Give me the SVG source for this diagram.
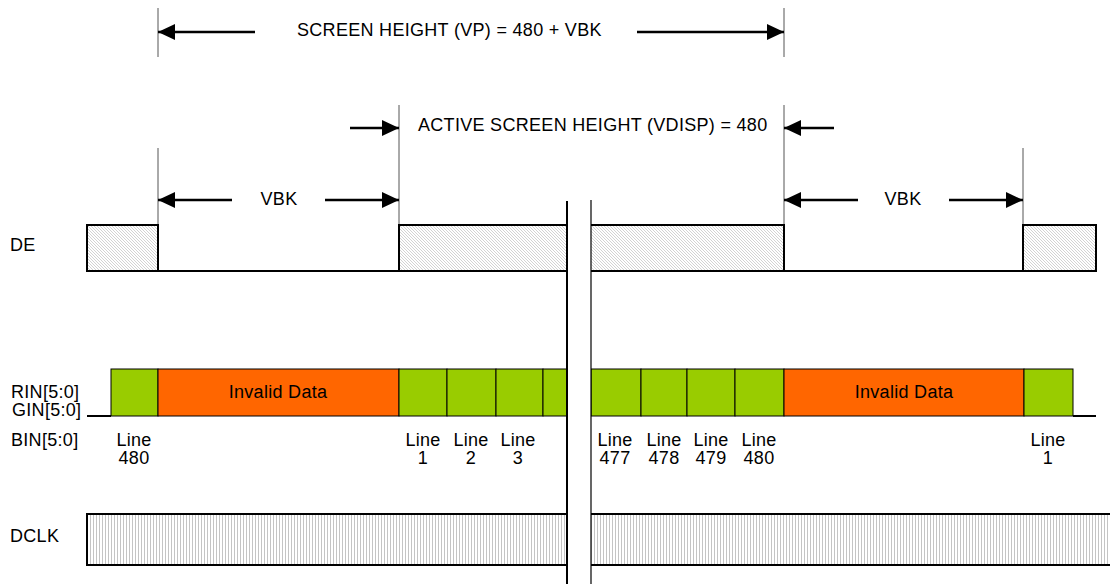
<svg xmlns="http://www.w3.org/2000/svg" width="1110" height="584" viewBox="0 0 1110 584">
<style>
text{font-family:"Liberation Sans",Arial,sans-serif;font-size:18px;letter-spacing:0.3px;fill:#000}
.mid{text-anchor:middle}
.ext{stroke:#555;stroke-width:1;fill:none}
.arr{stroke:#000;stroke-width:2.5;fill:none;marker-end:url(#ah)}
.sig{stroke:#000;stroke-width:2;fill:none}
.g{fill:#99cc00;stroke:#000;stroke-width:1}
.o{fill:#ff6600;stroke:#000;stroke-width:1}
</style>
<defs>
<pattern id="hatch" width="3" height="3" patternUnits="userSpaceOnUse"><rect width="3" height="3" fill="#fff"/><path d="M0,0 L3,3 M2,-1 L4,1 M-1,2 L1,4" stroke="#c8c8c8" stroke-width="0.8"/></pattern>
<pattern id="vl" width="3" height="10" patternUnits="userSpaceOnUse"><rect width="3" height="10" fill="#fff"/><rect width="1" height="10" fill="#c4c4c4"/></pattern>
<marker id="ah" viewBox="0 0 17 16" refX="17" refY="8" markerWidth="17" markerHeight="16" markerUnits="userSpaceOnUse" orient="auto"><path d="M0,0 L17,8 L0,16 z" fill="#000"/></marker>
</defs>
<rect width="1110" height="584" fill="#fff"/>

<g id="labels">
<text x="10" y="251">DE</text>
<text x="11" y="398">RIN[5:0]</text>
<text x="12" y="416">GIN[5:0]</text>
<text x="11" y="446">BIN[5:0]</text>
<text x="10" y="542">DCLK</text>
</g>

<g id="dimensions">
<path class="ext" d="M158,8V57 M784,8V57 M158,148V225 M399,105V225 M784,105V225 M1023,148V225"/>
<text x="297" y="36">SCREEN HEIGHT (VP) = 480 + VBK</text>
<text x="418" y="131">ACTIVE SCREEN HEIGHT (VDISP) = 480</text>
<text x="279" y="205" class="mid">VBK</text>
<text x="903" y="205" class="mid">VBK</text>
</g>

<g id="connectors">
<line class="arr" x1="255" y1="32" x2="158" y2="32"/>
<line class="arr" x1="637" y1="32" x2="784" y2="32"/>
<line class="arr" x1="350" y1="128" x2="399" y2="128"/>
<line class="arr" x1="834" y1="128" x2="784" y2="128"/>
<line class="arr" x1="232" y1="200" x2="158" y2="200"/>
<line class="arr" x1="325" y1="200" x2="399" y2="200"/>
<line class="arr" x1="858" y1="200" x2="784" y2="200"/>
<line class="arr" x1="949" y1="200" x2="1023" y2="200"/>
</g>

<g id="de">
<rect x="87" y="225" width="71" height="46" fill="url(#hatch)"/>
<rect x="399" y="225" width="168" height="46" fill="url(#hatch)"/>
<rect x="591" y="225" width="193" height="46" fill="url(#hatch)"/>
<rect x="1023" y="225" width="73" height="46" fill="url(#hatch)"/>
<path class="sig" d="M158,271 H87 V225 H158 V271 H399 V225 H567 M399,271 H567 M591,225 H784 V271 H591 M784,271 H1023 V225 H1096 V271 H1023"/>
</g>

<g id="data">
<path class="sig" stroke-width="1.5" d="M87,416 H111 M1073,416 H1096"/>
<rect class="g" x="111" y="369" width="47" height="47"/>
<rect class="o" x="158" y="369" width="241" height="47"/>
<rect class="g" x="399" y="369" width="48" height="47"/>
<rect class="g" x="447" y="369" width="49" height="47"/>
<rect class="g" x="496" y="369" width="47" height="47"/>
<rect class="g" x="543" y="369" width="24" height="47"/>
<rect class="g" x="591" y="369" width="50" height="47"/>
<rect class="g" x="641" y="369" width="46" height="47"/>
<rect class="g" x="687" y="369" width="48" height="47"/>
<rect class="g" x="735" y="369" width="49" height="47"/>
<rect class="o" x="784" y="369" width="240" height="47"/>
<rect class="g" x="1024" y="369" width="49" height="47"/>
<text x="278" y="398" class="mid">Invalid Data</text>
<text x="904" y="398" class="mid">Invalid Data</text>
<text x="134" y="446" class="mid">Line</text><text x="134" y="464" class="mid">480</text>
<text x="423" y="446" class="mid">Line</text><text x="423" y="464" class="mid">1</text>
<text x="471" y="446" class="mid">Line</text><text x="471" y="464" class="mid">2</text>
<text x="518" y="446" class="mid">Line</text><text x="518" y="464" class="mid">3</text>
<text x="615" y="446" class="mid">Line</text><text x="615" y="464" class="mid">477</text>
<text x="664" y="446" class="mid">Line</text><text x="664" y="464" class="mid">478</text>
<text x="711" y="446" class="mid">Line</text><text x="711" y="464" class="mid">479</text>
<text x="759" y="446" class="mid">Line</text><text x="759" y="464" class="mid">480</text>
<text x="1048" y="446" class="mid">Line</text><text x="1048" y="464" class="mid">1</text>
</g>

<g id="dclk">
<rect x="87" y="514" width="480" height="51" fill="url(#vl)"/>
<rect x="591" y="514" width="519" height="51" fill="url(#vl)"/>
<path class="sig" d="M567,514 H87 V565 H567 M591,514 H1110 M591,565 H1110"/>
</g>

<g id="break">
<rect x="568" y="200" width="23" height="384" fill="#fff"/>
<line x1="567" y1="201" x2="567" y2="584" stroke="#000" stroke-width="2"/>
<line x1="591" y1="200" x2="591" y2="584" stroke="#000" stroke-width="1.2"/>
</g>
</svg>
